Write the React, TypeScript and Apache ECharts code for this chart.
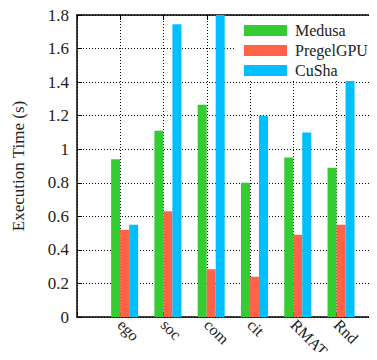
import React, { useEffect, useRef } from "react";
import * as echarts from "echarts";

const categories = ["ego", "soc", "com", "cit", "RMAT", "Rnd"];
const medusa = [0.94, 1.11, 1.265, 0.8, 0.95, 0.89];
const pregel = [0.52, 0.63, 0.285, 0.24, 0.49, 0.55];
const cusha = [0.55, 1.745, 1.85, 1.2, 1.1, 1.435];
const seriesNames = ["Medusa", "PregelGPU⁻", "CuSha"];
const colors = ["#33CC33", "#FF6347", "#00BFFF"];

const FONT = "'Liberation Serif', 'DejaVu Serif', serif";

export default function App() {
  const ref = useRef<HTMLDivElement>(null);
  useEffect(() => {
    if (!ref.current) return;
    const chart = echarts.init(ref.current, undefined, { renderer: "svg" });
    const toPairs = (arr: number[]) => arr.map((v, i) => [i + 1, v]);
    chart.setOption({
      animation: false,
      grid: { left: 77, right: -3, top: 15, bottom: 43, containLabel: false, outerBoundsMode: "none" },
      legend: {
        orient: "vertical",
        left: 236,
        top: 16,
        padding: [6, 20, 2, 8],
        backgroundColor: "#fff",
        itemWidth: 43,
        itemHeight: 11,
        itemGap: 3,
        icon: "rect",
        data: seriesNames,
        textStyle: { fontFamily: FONT, fontSize: 16, color: "#222", lineHeight: 17, padding: [0, 0, 0, 3] },
      },
      xAxis: [
        {
          type: "value",
          min: 0,
          max: 7,
          interval: 1,
          position: "bottom",
          axisLine: { show: true, lineStyle: { color: "#000", width: 1.5 } },
          axisTick: { show: true, inside: true, length: 5, lineStyle: { color: "#000" } },
          splitLine: { show: true, lineStyle: { color: "#000", type: [1, 2], width: 1 } },
          axisLabel: {
            rotate: -45,
            margin: 5,
            fontFamily: FONT,
            fontSize: 16,
            color: "#222",
            formatter: (v: number) => categories[v - 1] ?? "",
          },
        },
        {
          type: "value",
          min: 0,
          max: 7,
          interval: 1,
          position: "top",
          axisLine: { show: true, onZero: false, lineStyle: { color: "#000", width: 1.5 } },
          axisTick: { show: true, inside: true, length: 5, lineStyle: { color: "#000" } },
          splitLine: { show: false },
          axisLabel: { show: false },
        },
        {
          type: "value",
          min: -0.1,
          max: 6.9,
          show: false,
          splitLine: { show: false },
        },
      ],
      yAxis: {
        type: "value",
        min: 0,
        max: 1.8,
        interval: 0.2,
        name: "Execution Time (s)",
        nameLocation: "middle",
        nameGap: 50,
        nameTextStyle: { fontFamily: FONT, fontSize: 17, color: "#222" },
        axisLine: { show: true, lineStyle: { color: "#000", width: 1.5 } },
        axisTick: { show: true, inside: true, length: 5, lineStyle: { color: "#000" } },
        splitLine: { show: true, lineStyle: { color: "#000", type: [1, 2], width: 1 } },
        axisLabel: {
          margin: 8,
          fontFamily: FONT,
          fontSize: 17,
          color: "#222",
          formatter: (v: number) => String(Math.round(v * 10) / 10),
        },
      },
      series: [medusa, pregel, cusha].map((arr, k) => ({
        type: "bar",
        name: seriesNames[k],
        xAxisIndex: 2,
        data: toPairs(arr),
        barWidth: 9,
        barGap: "0%",
        clip: true,
        itemStyle: { color: colors[k] },
      })),
    });
    return () => chart.dispose();
  }, []);
  return <div ref={ref} style={{ width: 377, height: 360, margin: -8 }} />;
}
